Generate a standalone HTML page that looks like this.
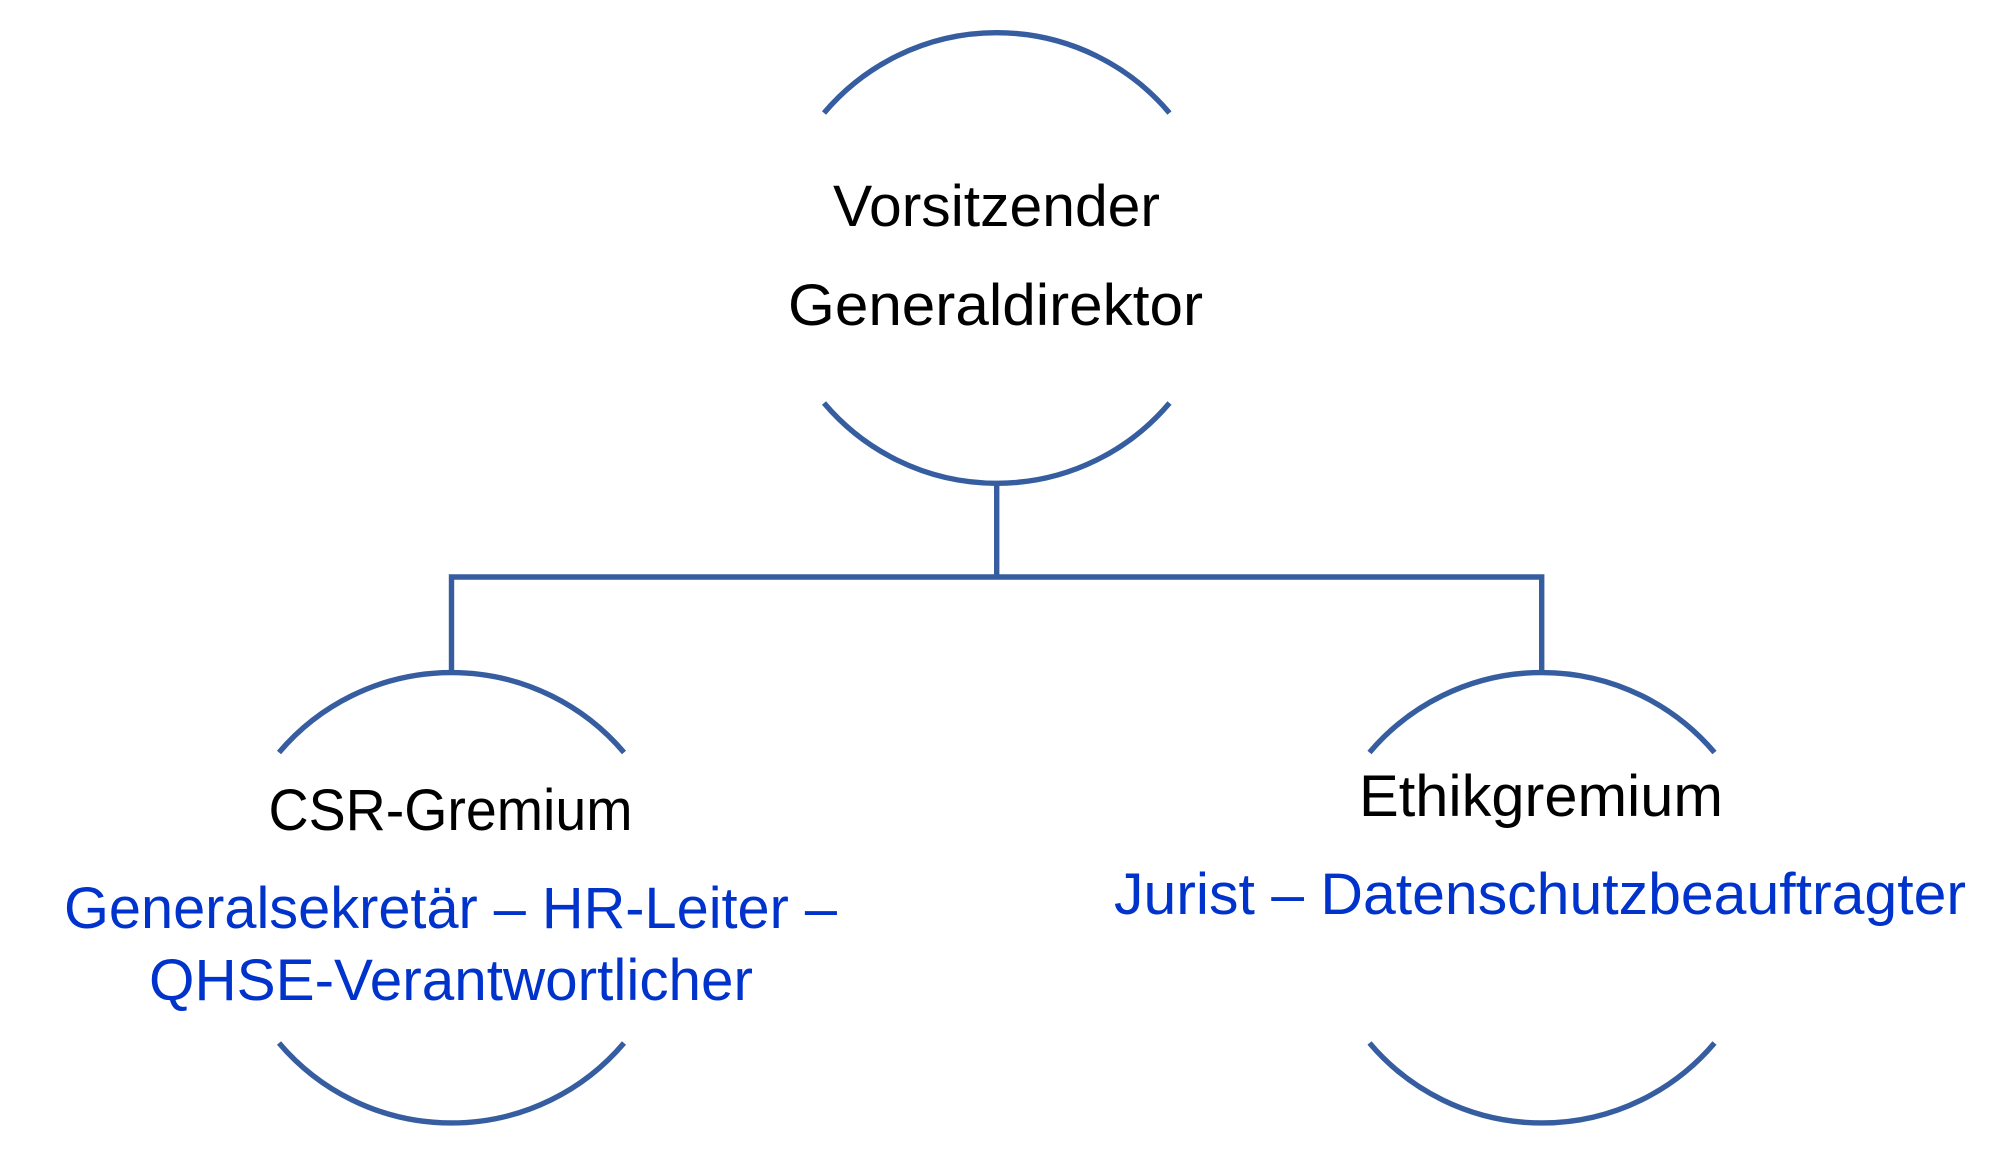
<!DOCTYPE html>
<html lang="de">
<head>
<meta charset="utf-8">
<title>Organigramm</title>
<style>
html,body{margin:0;padding:0;background:#fff;width:2006px;height:1155px;overflow:hidden}
svg{display:block}
text{font-family:"Liberation Sans",sans-serif;font-size:58px}
.k{fill:#000}
.b{fill:#0033cc}
.l{fill:none;stroke:#355da0;stroke-width:5.4}
</style>
</head>
<body>
<svg width="2006" height="1155" viewBox="0 0 2006 1155" xmlns="http://www.w3.org/2000/svg">
<path class="l" d="M824 113A226 226 0 0 1 1169.500 113"/>
<path class="l" d="M824 403A226 226 0 0 0 1169.500 403"/>
<path class="l" d="M279 752.500A226 226 0 0 1 624 752.500"/>
<path class="l" d="M279 1043A226 226 0 0 0 624 1043"/>
<path class="l" d="M1369.500 752.500A226 226 0 0 1 1714.500 752.500"/>
<path class="l" d="M1369.500 1043A226 226 0 0 0 1714.500 1043"/>
<path class="l" d="M996.700 482V579.500M451.500 673V577H1541.700V673"/>
<text class="k" x="833" y="226" textLength="327" lengthAdjust="spacingAndGlyphs">Vorsitzender</text>
<text class="k" x="788" y="325" textLength="415" lengthAdjust="spacingAndGlyphs">Generaldirektor</text>
<text class="k" x="268.500" y="830" textLength="364" lengthAdjust="spacingAndGlyphs">CSR-Gremium</text>
<text class="b" x="64" y="928" textLength="773" lengthAdjust="spacingAndGlyphs">Generalsekretär – HR-Leiter –</text>
<text class="b" x="149" y="1000" textLength="604" lengthAdjust="spacingAndGlyphs">QHSE-Verantwortlicher</text>
<text class="k" x="1359" y="816" textLength="364" lengthAdjust="spacingAndGlyphs">Ethikgremium</text>
<text class="b" x="1114" y="914" textLength="852" lengthAdjust="spacingAndGlyphs">Jurist – Datenschutzbeauftragter</text>
</svg>
</body>
</html>
